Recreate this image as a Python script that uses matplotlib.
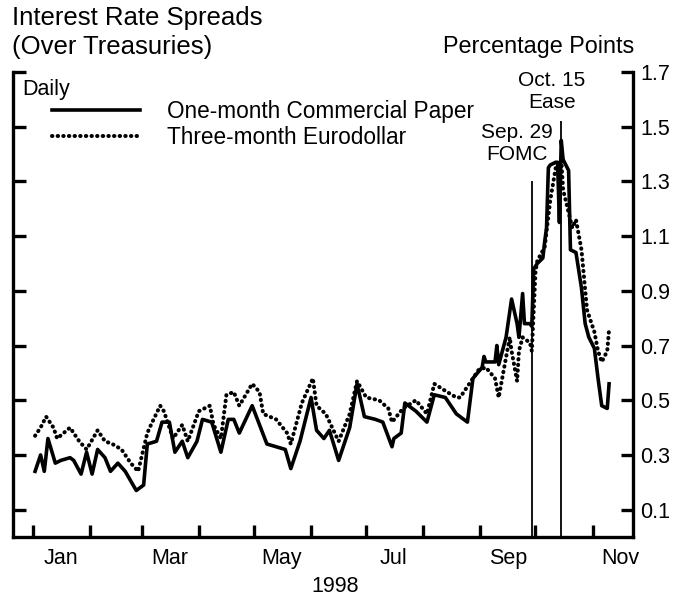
import matplotlib
matplotlib.use('Agg')
import matplotlib.pyplot as plt
import matplotlib.dates as mdates
import pandas as pd

plt.rcParams['font.family'] = ['Liberation Sans', 'DejaVu Sans']

# One-month commercial paper spread
cp_dates = ['1998-01-02', '1998-01-05', '1998-01-07', '1998-01-09', '1998-01-13', '1998-01-16',
            '1998-01-21', '1998-01-23', '1998-01-27', '1998-01-30', '1998-02-02', '1998-02-05',
            '1998-02-09', '1998-02-12', '1998-02-16', '1998-02-20', '1998-02-26', '1998-03-02',
            '1998-03-04', '1998-03-09', '1998-03-12', '1998-03-16', '1998-03-19', '1998-03-23',
            '1998-03-26', '1998-03-31', '1998-04-03', '1998-04-08', '1998-04-13', '1998-04-17',
            '1998-04-20', '1998-04-23', '1998-04-30', '1998-05-08', '1998-05-13', '1998-05-18',
            '1998-05-21', '1998-05-26', '1998-06-01', '1998-06-04', '1998-06-08', '1998-06-11',
            '1998-06-16', '1998-06-22', '1998-06-26', '1998-06-30', '1998-07-06', '1998-07-10',
            '1998-07-15', '1998-07-16', '1998-07-20', '1998-07-22', '1998-07-28', '1998-08-03',
            '1998-08-07', '1998-08-13', '1998-08-19', '1998-08-25', '1998-08-28', '1998-09-02',
            '1998-09-03', '1998-09-04', '1998-09-09', '1998-09-10', '1998-09-11', '1998-09-15',
            '1998-09-18', '1998-09-21', '1998-09-22', '1998-09-24', '1998-09-25', '1998-09-28',
            '1998-09-29', '1998-09-30', '1998-10-02', '1998-10-05', '1998-10-06', '1998-10-07',
            '1998-10-08', '1998-10-09', '1998-10-12', '1998-10-13', '1998-10-14', '1998-10-15',
            '1998-10-16', '1998-10-19', '1998-10-20', '1998-10-23', '1998-10-26', '1998-10-28',
            '1998-10-30', '1998-11-02', '1998-11-04', '1998-11-06', '1998-11-09', '1998-11-10']
cp_values = [0.24, 0.30, 0.24, 0.36, 0.27, 0.28,
             0.29, 0.28, 0.23, 0.31, 0.23, 0.32,
             0.29, 0.24, 0.27, 0.24, 0.17, 0.19,
             0.34, 0.35, 0.42, 0.42, 0.31, 0.35,
             0.29, 0.35, 0.43, 0.42, 0.31, 0.43,
             0.43, 0.38, 0.48, 0.34, 0.33, 0.32,
             0.25, 0.35, 0.51, 0.39, 0.36, 0.39,
             0.28, 0.40, 0.56, 0.44, 0.43, 0.42,
             0.33, 0.36, 0.38, 0.49, 0.46, 0.42,
             0.52, 0.51, 0.45, 0.42, 0.58, 0.62,
             0.66, 0.64, 0.64, 0.70, 0.63, 0.73,
             0.87, 0.78, 0.73, 0.89, 0.78, 0.78,
             0.77, 0.98, 1.00, 1.02, 1.08, 1.13,
             1.35, 1.36, 1.37, 1.37, 1.15, 1.45,
             1.38, 1.34, 1.05, 1.04, 0.91, 0.78,
             0.73, 0.69, 0.58, 0.48, 0.47, 0.56]

# Three-month Eurodollar spread
ed_dates = ['1998-01-02', '1998-01-05', '1998-01-08', '1998-01-12', '1998-01-14', '1998-01-21',
            '1998-01-26', '1998-01-30', '1998-02-05', '1998-02-09', '1998-02-13', '1998-02-18',
            '1998-02-23', '1998-02-27', '1998-03-04', '1998-03-06', '1998-03-11', '1998-03-13',
            '1998-03-18', '1998-03-23', '1998-03-26', '1998-04-01', '1998-04-07', '1998-04-09',
            '1998-04-13', '1998-04-16', '1998-04-20', '1998-04-23', '1998-04-30', '1998-05-04',
            '1998-05-06', '1998-05-13', '1998-05-19', '1998-05-21', '1998-05-27', '1998-06-02',
            '1998-06-04', '1998-06-09', '1998-06-16', '1998-06-22', '1998-06-26', '1998-07-01',
            '1998-07-08', '1998-07-13', '1998-07-15', '1998-07-21', '1998-07-28', '1998-08-03',
            '1998-08-07', '1998-08-14', '1998-08-19', '1998-08-21', '1998-08-26', '1998-08-31',
            '1998-09-04', '1998-09-09', '1998-09-11', '1998-09-14', '1998-09-17', '1998-09-18',
            '1998-09-21', '1998-09-22', '1998-09-24', '1998-09-28', '1998-09-29', '1998-10-01',
            '1998-10-02', '1998-10-06', '1998-10-09', '1998-10-12', '1998-10-13', '1998-10-15',
            '1998-10-16', '1998-10-21', '1998-10-23', '1998-10-26', '1998-10-29', '1998-11-02',
            '1998-11-04', '1998-11-06', '1998-11-09', '1998-11-10']
ed_values = [0.37, 0.40, 0.44, 0.40, 0.36, 0.40,
             0.35, 0.32, 0.39, 0.35, 0.34, 0.32,
             0.27, 0.24, 0.38, 0.41, 0.48, 0.46,
             0.36, 0.41, 0.35, 0.46, 0.48, 0.41,
             0.36, 0.52, 0.53, 0.48, 0.56, 0.53,
             0.45, 0.43, 0.38, 0.34, 0.49, 0.58,
             0.48, 0.45, 0.35, 0.45, 0.57, 0.51,
             0.50, 0.47, 0.42, 0.47, 0.50, 0.45,
             0.56, 0.53, 0.51, 0.51, 0.56, 0.61,
             0.62, 0.58, 0.51, 0.62, 0.73, 0.68,
             0.57, 0.68, 0.73, 0.71, 0.68, 0.97,
             1.01, 1.06, 1.23, 1.35, 1.36, 1.38,
             1.27, 1.13, 1.16, 1.05, 0.83, 0.75,
             0.68, 0.64, 0.68, 0.76]

# Event markers
events = ['Sep. 29\nFOMC', 'Oct. 15\nEase']
event_dates = ['1998-09-29', '1998-10-15']
event_tops = [1.30, 1.52]

y_ticks = [0.1, 0.3, 0.5, 0.7, 0.9, 1.1, 1.3, 1.5, 1.7]
month_labels = ['Jan', 'Mar', 'May', 'Jul', 'Sep', 'Nov']

cp_x = pd.to_datetime(cp_dates)
ed_x = pd.to_datetime(ed_dates)
ev_x = pd.to_datetime(event_dates)

fig = plt.figure(figsize=(6.91, 6.0), dpi=100)
ax = fig.add_axes([13 / 691, 63 / 600, 620 / 691, 465 / 600])

ax.plot(cp_x, cp_values, color='black', lw=2.6, solid_joinstyle='round',
        label='One-month Commercial Paper')
ax.plot(ed_x, ed_values, color='black', lw=2.9, linestyle=(0, (0.1, 1.3)),
        dash_capstyle='round', label='Three-month Eurodollar')

ax.vlines(ev_x, 0, event_tops, color='black', lw=1.3)

ax.set_xlim(pd.Timestamp('1997-12-21'), pd.Timestamp('1998-11-23'))
ax.set_ylim(0, 1.7)

for s in ['left', 'right', 'bottom']:
    ax.spines[s].set_linewidth(2.4)
ax.spines['top'].set_visible(False)

ax.set_yticks(y_ticks)
ax.set_yticklabels([f'{v:.1f}' for v in y_ticks])
ax.tick_params(axis='y', direction='in', length=9, width=2.4, left=True, right=True,
               labelleft=False, labelright=True, labelsize=15.5, pad=5)

ax.xaxis.set_major_locator(mdates.MonthLocator())
ax.xaxis.set_major_formatter(plt.NullFormatter())
mid = pd.to_datetime([f'1998-{m:02d}-16' for m in (1, 3, 5, 7, 9, 11)])
ax.set_xticks(mid, minor=True)
ax.set_xticklabels(month_labels, minor=True)
ax.tick_params(axis='x', which='major', direction='in', length=9, width=2.4)
ax.tick_params(axis='x', which='minor', length=0, labelsize=15.5, pad=8)

fig.text(335 / 691, 1 - 587 / 600, '1998', ha='center', va='center', fontsize=15.5)

fig.text(12 / 691, 1 - 18 / 600, 'Interest Rate Spreads', ha='left', va='center', fontsize=18.5)
fig.text(12 / 691, 1 - 47 / 600, '(Over Treasuries)', ha='left', va='center', fontsize=18.5)
fig.text(634 / 691, 1 - 47 / 600, 'Percentage Points', ha='right', va='center', fontsize=16.8)
fig.text(22 / 691, 1 - 90 / 600, 'Daily', ha='left', va='center', fontsize=15.5)

ax.legend(loc='upper left', bbox_to_anchor=(52 / 691, 1 - 100 / 600),
          bbox_transform=fig.transFigure, frameon=False, fontsize=16.3,
          handlelength=3.9, handletextpad=1.2, labelspacing=0.12,
          borderpad=0, borderaxespad=0)

fig.text(517 / 691, 1 - 143 / 600, events[0], ha='center', va='center',
         fontsize=15, linespacing=1.2)
fig.text(552 / 691, 1 - 92 / 600, events[1], ha='center', va='center',
         fontsize=15, linespacing=1.2)

fig.savefig('out.png', dpi=100)
